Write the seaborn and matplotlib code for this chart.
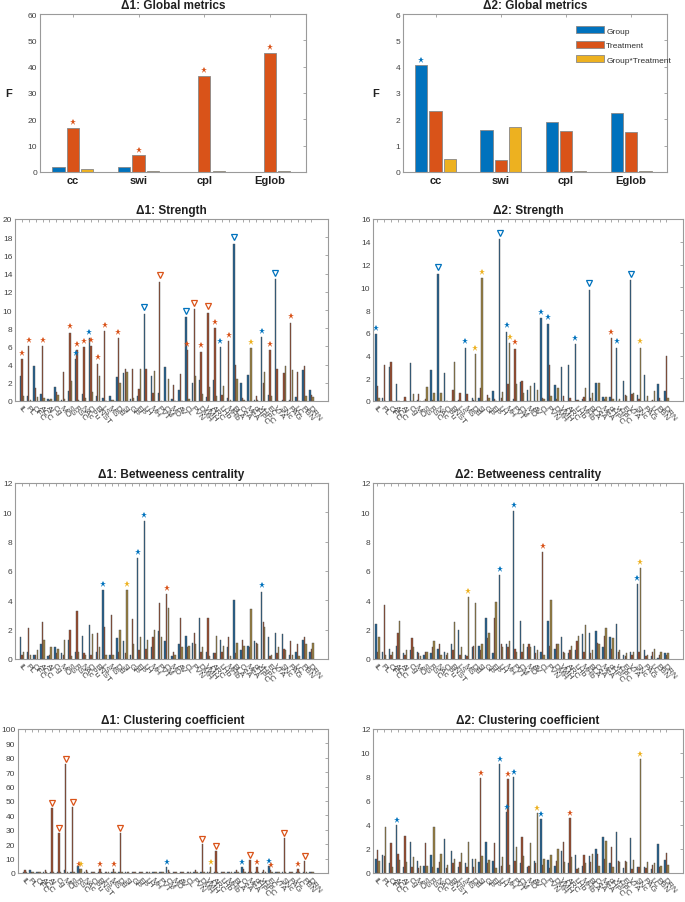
import numpy as np
import pandas as pd
import matplotlib
matplotlib.use('Agg')
import matplotlib.pyplot as plt
import seaborn as sns

sns.set_theme(style='white')
plt.rcParams['font.family'] = ['Liberation Sans', 'DejaVu Sans']

# ---------------- data ----------------
factors = ['Group', 'Treatment', 'Group*Treatment']
global_metrics = ['cc', 'swi', 'cpl', 'Eglob']

d1_global_group = [1.8, 1.9, 0.1, 0.1]
d1_global_treat = [16.8, 6.3, 36.5, 45.2]
d1_global_inter = [1.2, 0.2, 0.5, 0.5]
d1_global_marks = [(0, 1, '*'), (1, 1, '*'), (2, 1, '*'), (3, 1, '*')]

d2_global_group = [4.05, 1.6, 1.9, 2.25]
d2_global_treat = [2.3, 0.45, 1.55, 1.52]
d2_global_inter = [0.5, 1.7, 0.05, 0.05]
d2_global_marks = [(0, 0, '*')]

regions = ['IL', 'PL', 'OFC', 'ACC', 'AI', 'Cg', 'MO', 'SS', 'RSC', 'NAc', 'CPu', 'BNST',
           'LS', 'MS', 'DB', 'SI', 'GP', 'EP', 'LH', 'MH', 'PVT', 'CM', 'MD', 'AV',
           'CL', 'PVN', 'DMH', 'VMH', 'ARC', 'LHb', 'MHb', 'BLA', 'CeA', 'MeA', 'dHPC',
           'vHPC', 'EC', 'VTA', 'SNc', 'PAG', 'LC', 'PBN', 'DRN']

d1_str_group = [2.7, 0.6, 3.8, 0.8, 0.2, 1.5, 0.1, 1.1, 4.6, 0.8, 6.9, 0.6, 0.3, 0.5, 2.6, 3.1, 0.2, 0.5, 9.6, 2.7, 0.9, 3.7, 0.2, 1.2, 9.2, 2.0, 2.3, 0.4, 2.3, 5.9, 0.3, 17.3, 2.0, 2.9, 0.1, 7.0, 0.7, 13.4, 0.1, 0.1, 0.4, 3.4, 1.2]
d1_str_treat = [4.6, 6.0, 1.4, 6.0, 0.1, 1.0, 3.2, 7.5, 5.6, 5.9, 6.0, 4.1, 7.7, 0.1, 6.9, 3.5, 3.5, 1.3, 3.5, 0.9, 13.1, 0.0, 1.8, 3.0, 5.6, 10.1, 5.4, 9.7, 8.0, 0.7, 6.6, 4.0, 0.3, 0.0, 0.6, 2.0, 5.6, 3.5, 3.1, 8.6, 3.2, 3.9, 0.7]
d1_str_inter = [0.5, 0.1, 0.4, 0.3, 0.2, 0.7, 0.2, 2.2, 0.1, 0.3, 1.0, 2.7, 0.0, 0.1, 2.0, 3.2, 0.3, 3.5, 0.0, 3.3, 0.0, 2.4, 0.0, 0.0, 0.2, 2.8, 0.8, 1.5, 0.5, 1.6, 0.1, 2.4, 0.1, 5.8, 0.1, 3.2, 0.5, 0.0, 3.9, 3.4, 0.0, 0.5, 0.4]
d1_str_marks = [(0, 1, '*'), (1, 1, '*'), (3, 1, '*'), (7, 1, '*'), (8, 0, '*'), (8, 1, '*'), (9, 1, '*'),
                (10, 0, '*'), (10, 1, '*'), (11, 1, '*'), (12, 1, '*'), (14, 1, '*'), (18, 0, 'v'),
                (20, 1, 'v'), (24, 0, 'v'), (24, 1, '*'), (25, 1, 'v'), (26, 1, '*'), (27, 1, 'v'),
                (28, 1, '*'), (29, 0, '*'), (30, 1, '*'), (31, 0, 'v'), (33, 2, '*'), (35, 0, '*'),
                (36, 1, '*'), (37, 0, 'v'), (39, 1, '*')]

d2_str_group = [5.9, 0.3, 3.0, 1.5, 0.0, 3.3, 0.1, 0.0, 2.7, 11.2, 2.5, 0.0, 0.1, 4.7, 0.3, 0.3, 0.0, 0.9, 14.2, 6.1, 0.2, 1.7, 1.0, 1.6, 7.3, 6.8, 1.4, 3.0, 3.2, 5.0, 0.2, 9.8, 1.6, 0.35, 0.35, 4.7, 1.8, 10.6, 0.5, 2.3, 0.0, 1.5, 0.9]
d2_str_treat = [1.3, 3.2, 3.4, 0.0, 0.35, 0.0, 0.6, 0.2, 0.1, 0.0, 0.0, 1.0, 0.7, 0.6, 0.05, 1.1, 0.55, 0.2, 0.3, 1.5, 4.6, 1.8, 0.0, 0.0, 0.25, 3.2, 0.15, 0.45, 0.3, 0.1, 0.35, 0.3, 0.0, 0.2, 5.5, 0.0, 0.5, 0.6, 0.15, 0.0, 0.05, 0.3, 4.0]
d2_str_inter = [0.3, 0.0, 0.0, 0.0, 0.0, 0.6, 0.0, 1.2, 0.7, 0.7, 0.0, 3.4, 0.0, 0.0, 4.1, 10.8, 0.3, 0.0, 0.75, 5.1, 1.5, 0.7, 1.3, 1.0, 0.2, 0.4, 1.1, 0.0, 0.0, 0.1, 1.15, 0.7, 1.6, 0.35, 0.2, 0.2, 0.45, 0.7, 4.7, 0.4, 0.9, 0.0, 0.3]
d2_str_marks = [(0, 0, '*'), (9, 0, 'v'), (13, 0, '*'), (14, 2, '*'), (15, 2, '*'), (18, 0, 'v'),
                (19, 0, '*'), (19, 2, '*'), (20, 1, '*'), (24, 0, '*'), (25, 0, '*'), (29, 0, '*'),
                (31, 0, 'v'), (34, 1, '*'), (35, 0, '*'), (37, 0, 'v'), (38, 2, '*')]

d1_btw_group = [1.5, 0.5, 0.3, 1.0, 0.2, 0.8, 0.4, 1.3, 0.5, 1.6, 2.3, 0.5, 4.7, 0.3, 1.4, 1.2, 0.3, 6.9, 9.4, 0.8, 1.9, 1.2, 0.2, 1.0, 1.6, 1.1, 2.8, 0.5, 0.4, 1.3, 0.8, 4.0, 0.6, 0.9, 1.2, 4.6, 1.5, 1.8, 1.7, 0.3, 0.5, 1.3, 0.5]
d1_btw_treat = [0.3, 2.1, 0.3, 2.5, 0.3, 0.4, 0.3, 2.0, 3.3, 0.4, 0.3, 1.8, 2.2, 3.0, 0.5, 0.4, 2.7, 0.6, 0.7, 1.5, 3.8, 4.4, 0.5, 2.8, 0.8, 1.8, 0.5, 2.8, 0.4, 0.5, 1.5, 0.4, 1.3, 0.8, 1.1, 2.5, 0.2, 0.4, 0.7, 1.2, 1.0, 1.5, 0.7]
d1_btw_inter = [0.5, 0.3, 0.6, 1.3, 0.8, 0.7, 1.3, 0.2, 0.5, 0.3, 1.7, 0.8, 0.3, 0.3, 2.0, 4.7, 1.0, 1.5, 1.3, 2.0, 1.5, 3.5, 0.3, 0.8, 0.9, 1.0, 0.8, 0.2, 1.6, 0.9, 0.2, 1.1, 0.9, 3.4, 1.0, 2.2, 0.3, 0.8, 0.6, 0.3, 0.2, 1.0, 1.1]
d1_btw_marks = [(12, 0, '*'), (15, 2, '*'), (17, 0, '*'), (18, 0, '*'), (21, 1, '*'), (35, 0, '*')]

d2_btw_group = [2.4, 0.5, 0.7, 0.9, 0.4, 0.6, 0.5, 0.3, 0.4, 0.7, 0.5, 1.0, 2.0, 0.3, 0.8, 0.9, 2.8, 0.4, 5.7, 1.0, 10.1, 2.6, 0.8, 0.9, 0.5, 2.6, 0.7, 1.5, 0.4, 0.6, 1.7, 1.8, 1.9, 0.8, 1.5, 2.4, 0.3, 0.5, 5.1, 0.6, 0.2, 0.1, 0.4]
d2_btw_treat = [0.5, 3.7, 0.3, 1.8, 0.3, 1.4, 0.4, 0.5, 0.8, 1.0, 0.3, 0.6, 0.3, 0.2, 0.9, 0.6, 1.4, 2.8, 1.0, 0.8, 0.7, 0.5, 1.0, 0.4, 7.3, 0.9, 1.0, 0.5, 0.6, 1.2, 0.5, 0.4, 1.1, 1.6, 0.7, 0.5, 0.2, 0.3, 0.5, 0.2, 0.5, 0.3, 0.3]
d2_btw_inter = [1.5, 0.3, 0.5, 2.6, 0.6, 0.8, 0.2, 0.5, 1.2, 0.3, 0.4, 2.5, 0.8, 4.2, 3.8, 1.0, 1.8, 3.9, 0.8, 1.2, 0.5, 1.0, 0.8, 0.6, 0.3, 4.0, 1.0, 0.4, 0.9, 1.6, 2.3, 0.6, 1.0, 2.1, 1.4, 0.6, 0.4, 0.5, 6.2, 0.3, 0.7, 0.5, 0.4]
d2_btw_marks = [(13, 2, '*'), (18, 0, '*'), (20, 0, '*'), (24, 1, '*'), (38, 0, '*'), (38, 2, '*')]

d1_clu_group = [1, 2, 1, 1, 1, 1, 2, 1, 5, 1, 0.5, 1, 1, 1, 1, 1, 1, 1, 1, 1, 1, 4, 0.5, 1, 1, 1, 1, 1, 1, 1, 1, 1, 4, 1, 1, 1, 5, 1, 1, 1, 1, 1, 1]
d1_clu_treat = [2, 1, 0.5, 2, 45, 28, 76, 46, 3, 2, 1, 3, 1, 3, 28, 1, 1, 0.5, 1, 0.5, 1, 2, 0.5, 1, 1, 2, 20, 1, 15, 1, 1, 2, 3, 9, 4, 2, 2, 1, 24, 1, 3, 8, 1]
d1_clu_inter = [0.5, 1, 0.5, 1, 1, 1, 1, 1, 3, 1, 0.5, 1, 0.5, 0.5, 1, 0.5, 0.5, 0.5, 0.5, 0.5, 0.5, 1, 0.5, 1, 1, 1, 1, 4, 1, 1, 0.5, 1, 1, 1, 1, 1, 1, 0.5, 1, 1, 1, 1, 0.5]
d1_clu_marks = [(4, 1, 'v'), (5, 1, 'v'), (6, 1, 'v'), (7, 1, 'v'), (8, 1, '*'), (8, 2, '*'), (11, 1, '*'),
                (13, 1, '*'), (14, 1, 'v'), (21, 0, '*'), (26, 1, 'v'), (27, 2, '*'), (28, 1, 'v'),
                (32, 0, '*'), (33, 1, 'v'), (34, 1, '*'), (36, 0, '*'), (36, 1, '*'), (38, 1, 'v'),
                (40, 1, '*'), (41, 1, 'v')]

d2_clu_group = [1.2, 1.5, 0.8, 4.0, 0.5, 2.6, 1.0, 0.6, 1.5, 0.4, 2.8, 1.8, 0.5, 0.8, 1.2, 0.9, 2.6, 1.0, 9.1, 5.1, 8.0, 0.8, 0.5, 1.0, 4.5, 1.1, 0.6, 1.8, 0.8, 1.5, 0.6, 1.4, 2.0, 3.0, 0.8, 3.4, 0.4, 2.9, 0.5, 0.5, 0.3, 2.4, 1.1]
d2_clu_treat = [1.9, 1.4, 2.5, 1.6, 3.1, 0.5, 0.4, 2.5, 0.5, 0.9, 0.4, 0.8, 0.9, 0.5, 0.5, 7.9, 0.8, 2.5, 0.6, 7.8, 1.0, 3.0, 0.6, 0.8, 0.7, 0.4, 1.0, 2.6, 4.6, 0.3, 1.5, 0.9, 1.6, 1.2, 2.2, 1.0, 1.0, 0.3, 0.5, 0.4, 0.7, 0.5, 1.7]
d2_clu_inter = [1.0, 3.8, 0.5, 1.1, 0.9, 1.3, 0.6, 0.6, 3.8, 1.6, 0.7, 1.2, 1.7, 2.6, 1.2, 1.4, 1.1, 0.4, 1.3, 0.7, 2.2, 1.4, 2.5, 5.0, 1.2, 1.5, 2.0, 0.9, 1.3, 0.4, 0.8, 1.6, 0.6, 2.7, 0.5, 0.9, 0.9, 1.1, 9.5, 0.9, 0.8, 0.6, 0.7]
d2_clu_marks = [(3, 0, '*'), (15, 1, '*'), (18, 0, '*'), (19, 0, '*'), (19, 1, '*'), (20, 0, '*'),
                (23, 2, '*'), (24, 0, '*'), (28, 1, '*'), (38, 2, '*')]

# ---------------- style ----------------
bright = ['#0072BD', '#D95319', '#EDB120']
dark = ['#22608f', '#9a4a2c', '#9a8040']
axis_col = '#9a9a9a'
text_col = '#404040'


def style_axes(ax):
    for s in ax.spines.values():
        s.set_color(axis_col)
        s.set_linewidth(0.8)
        s.set_visible(True)
    ax.tick_params(direction='in', length=2.5, width=0.6, top=True, right=True,
                   colors=axis_col, labelcolor=text_col, labelsize=6, pad=2)


def panel(ax, cats, g, t, i, marks, ymax, ystep, title, colors, width, gap, xlim,
          rotate=True, legend=False, ylabel=None, edge='#505050', lw=0.3):
    n = len(cats)
    df = pd.DataFrame({'cat': list(cats) * 3,
                       'F': list(g) + list(t) + list(i),
                       'factor': np.repeat(factors, n)})
    sns.barplot(data=df, x='cat', y='F', hue='factor', order=list(cats), hue_order=factors,
                palette=colors, width=width, gap=gap, errorbar=None, ax=ax, legend=legend,
                edgecolor=edge, linewidth=lw, saturation=1)
    off = 0.035 * ymax
    for idx, fac, m in marks:
        bar = ax.containers[fac][idx]
        x = bar.get_x() + bar.get_width() / 2
        y = bar.get_height() + off
        if m == '*':
            ax.plot(x, y, marker='*', ms=5, color=bright[fac], mew=0)
        else:
            ax.plot(x, y, marker='v', ms=5, mfc='none', mec=bright[fac], mew=0.9)
    ax.set_ylim(0, ymax)
    ax.set_yticks(np.arange(0, ymax + 0.001, ystep))
    ax.set_xlim(*xlim)
    ax.set_xlabel('')
    ax.set_ylabel('')
    ax.set_title(title, fontsize=8.5, fontweight='bold', color='#202020', pad=4)
    style_axes(ax)
    if rotate:
        ax.set_xticks(range(n))
        ax.set_xticklabels(cats, rotation=-50, ha='left', va='top', rotation_mode='anchor',
                           fontsize=6)
    else:
        ax.tick_params(axis='x', labelsize=8)
        for lab in ax.get_xticklabels():
            lab.set_fontweight('bold')
            lab.set_color('#202020')
    if ylabel:
        ax.set_ylabel(ylabel, rotation=0, fontsize=8, fontweight='bold', color='#202020',
                      labelpad=14, va='center')


fig = plt.figure(figsize=(6.85, 9.03), dpi=100)
W, H = 685.0, 903.0


def add_ax(x0, x1, y0, y1):
    return fig.add_axes([x0 / W, (H - y1) / H, (x1 - x0) / W, (y1 - y0) / H])


ax = add_ax(40, 306, 15, 173)
panel(ax, global_metrics, d1_global_group, d1_global_treat, d1_global_inter, d1_global_marks,
      60, 10, 'Δ1: Global metrics', bright, 0.66, 0.15, (-0.5, 3.55), rotate=False,
      ylabel='F', edge='#888888', lw=0.6)

ax = add_ax(403, 667, 15, 173)
panel(ax, global_metrics, d2_global_group, d2_global_treat, d2_global_inter, d2_global_marks,
      6, 1, 'Δ2: Global metrics', bright, 0.66, 0.15, (-0.5, 3.55), rotate=False,
      ylabel='F', legend=True, edge='#888888', lw=0.6)
leg = ax.legend(loc='upper left', bbox_to_anchor=(0.625, 0.97), fontsize=6, frameon=False,
                handlelength=3.4, handleheight=0.9, labelspacing=0.75, handletextpad=0.3)
for txt in leg.get_texts():
    txt.set_color('#303030')

rows = [
    (220, 402, 'Strength',
     (d1_str_group, d1_str_treat, d1_str_inter, d1_str_marks, 20, 2),
     (d2_str_group, d2_str_treat, d2_str_inter, d2_str_marks, 16, 2)),
    (484, 660, 'Betweeness centrality',
     (d1_btw_group, d1_btw_treat, d1_btw_inter, d1_btw_marks, 12, 2),
     (d2_btw_group, d2_btw_treat, d2_btw_inter, d2_btw_marks, 12, 2)),
    (730, 874, 'Clustering coefficient',
     (d1_clu_group, d1_clu_treat, d1_clu_inter, d1_clu_marks, 100, 10),
     (d2_clu_group, d2_clu_treat, d2_clu_inter, d2_clu_marks, 12, 2)),
]

for y0, y1, name, left, right in rows:
    lx = 18 if name.startswith('Clustering') else 15
    ax = add_ax(lx, 328, y0, y1)
    g, t, i, mk, ym, st = left
    panel(ax, regions, g, t, i, mk, ym, st, 'Δ1: ' + name, dark, 0.66, 0.1, (-1.0, 44.4))
    ax = add_ax(373, 683, y0, y1)
    g, t, i, mk, ym, st = right
    panel(ax, regions, g, t, i, mk, ym, st, 'Δ2: ' + name, dark, 0.66, 0.1, (-0.64, 44.4))

fig.savefig('out.png', dpi=100)
